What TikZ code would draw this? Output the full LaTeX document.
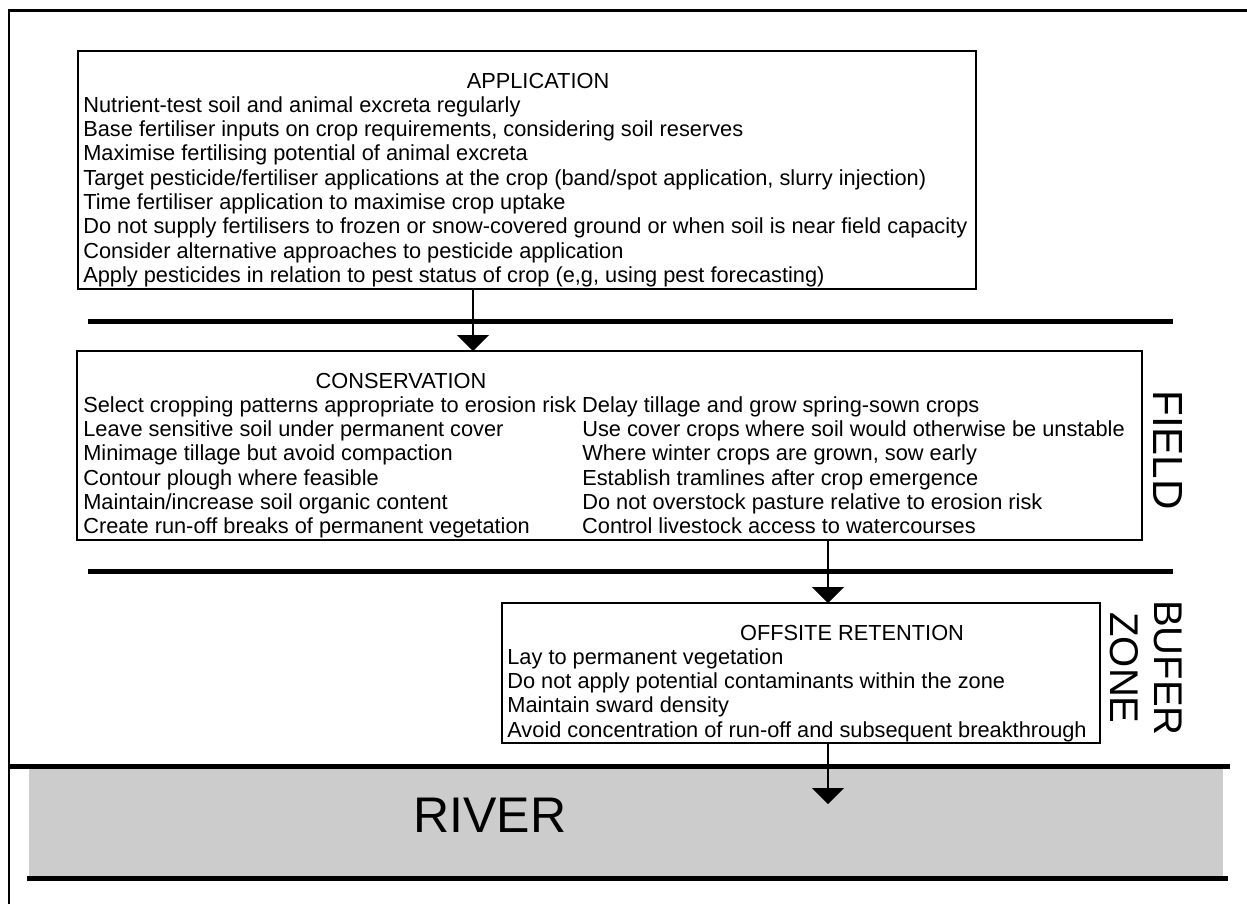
\documentclass[tikz,border=0pt]{standalone}
\usepackage{fontspec}
\setmainfont{Liberation Sans}
\usetikzlibrary{arrows.meta}
\definecolor{riverfill}{HTML}{CCCCCC}
\newcommand\diagfont{\fontsize{12.4}{13.83}\selectfont}
\newcommand\sidefont{\fontsize{22.8}{25}\selectfont}
\newcommand\fieldfont{\fontsize{24}{26}\selectfont}
\newcommand\riverfont{\fontsize{28.5}{30}\selectfont}
\begin{document}
\begin{tikzpicture}[x=0.02cm,y=-0.02cm,
  panel/.style={draw, line width=0.85pt, inner sep=0, outer sep=0, anchor=north west},
  heading/.style={inner sep=0, anchor=base, font=\diagfont},
  items/.style={inner sep=0, anchor=base west, font=\diagfont},
  flow/.style={line width=1.1pt, -{Triangle[width=0.64cm,length=0.32cm]}},
  divider/.style={line width=2.85pt},
  side/.style={inner sep=0, rotate=-90, align=center, font=\sidefont}]
\useasboundingbox (0,0) rectangle (1247,904);

% page frame (open to the right and bottom)
\draw[line width=1.7pt] (9,904) -- (9,10) -- (1247,10);

% river
\node[fill=riverfill, inner sep=0, outer sep=0, anchor=north west,
      minimum width=1194*0.02cm, minimum height=110*0.02cm] (river) at (29,766) {};
\draw[divider] (9,766) -- (1230,766);
\draw[divider] (27,878) -- (1228,878);
\node[inner sep=0, font=\riverfont] (rivertext) at (490,815) {RIVER};

% field / buffer zone boundaries
\draw[divider] (88,321) -- (1173,321);
\draw[divider] (88,571) -- (1173,571);

% application
\node[panel, minimum width=898*0.02cm, minimum height=238*0.02cm] (app) at (78,51) {};
\node[heading] (appT) at (538,88) {APPLICATION};
\node[items] (appL) at (83,112.3) {\begin{tabular}[t]{@{}l@{}}
Nutrient-test soil and animal excreta regularly\\
Base fertiliser inputs on crop requirements, considering soil reserves\\
Maximise fertilising potential of animal excreta\\
Target pesticide/fertiliser applications at the crop (band/spot application, slurry injection)\\
Time fertiliser application to maximise crop uptake\\
Do not supply fertilisers to frozen or snow-covered ground or when soil is near field capacity\\
Consider alternative approaches to pesticide application\\
Apply pesticides in relation to pest status of crop (e,g, using pest forecasting)
\end{tabular}};

% conservation
\node[panel, minimum width=1065*0.02cm, minimum height=189*0.02cm] (cons) at (77,351) {};
\node[heading] (consT) at (401,388) {CONSERVATION};
\node[items] (consL) at (83,412.3) {\begin{tabular}[t]{@{}l@{\space}l@{}}
Select cropping patterns appropriate to erosion risk & Delay tillage and grow spring-sown crops\\
Leave sensitive soil under permanent cover & Use cover crops where soil would otherwise be unstable\\
Minimage tillage but avoid compaction & Where winter crops are grown, sow early\\
Contour plough where feasible & Establish tramlines after crop emergence\\
Maintain/increase soil organic content & Do not overstock pasture relative to erosion risk\\
Create run-off breaks of permanent vegetation & Control livestock access to watercourses
\end{tabular}};

% offsite retention
\node[panel, minimum width=598*0.02cm, minimum height=140*0.02cm] (off) at (502,603) {};
\node[heading] (offT) at (852,640) {OFFSITE RETENTION};
\node[items] (offL) at (507,664.3) {\begin{tabular}[t]{@{}l@{}}
Lay to permanent vegetation\\
Do not apply potential contaminants within the zone\\
Maintain sward density\\
Avoid concentration of run-off and subsequent breakthrough
\end{tabular}};

% zone labels
\node[side, font=\fieldfont] (field) at (1168,450) {FIELD};
\node[side] (buffer) at (1146,668) {BUFER\\ZONE};

% flow arrows
\coordinate (colA) at (473,0);
\coordinate (colB) at (828,0);
\coordinate (riverIn) at (828,804);
\draw[flow] (app.south -| colA) -- (cons.north -| colA);
\draw[flow] (cons.south -| colB) -- (off.north -| colB);
\draw[flow] (off.south -| colB) -- (riverIn);
\end{tikzpicture}
\end{document}
